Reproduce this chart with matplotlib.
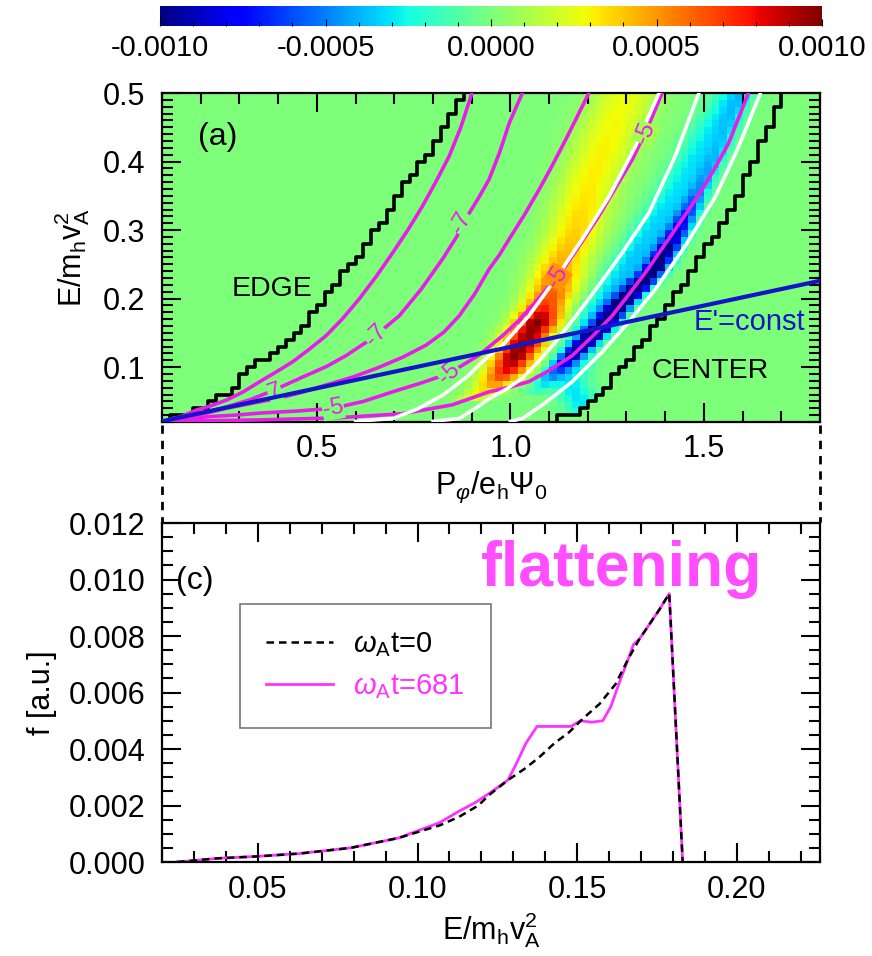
import numpy as np
import matplotlib
matplotlib.use('Agg')
import matplotlib.pyplot as plt
import matplotlib.ticker as ticker
from matplotlib.lines import Line2D

plt.rcParams['font.family'] = ['Liberation Sans', 'DejaVu Sans']
plt.rcParams['mathtext.fontset'] = 'custom'
plt.rcParams['mathtext.rm'] = 'Liberation Sans'
plt.rcParams['mathtext.it'] = 'Liberation Sans:italic'
plt.rcParams['mathtext.bf'] = 'Liberation Sans:bold'

# ---------------- panel (a): curves, (P, E) ----------------
edgeP = [0.13, 0.189, 0.267, 0.344, 0.421, 0.473, 0.516, 0.559, 0.610, 0.653, 0.696, 0.739, 0.782, 0.825, 0.877, 0.89]
edgeE = [0.025, 0.0375, 0.063, 0.103, 0.137, 0.166, 0.195, 0.229, 0.262, 0.301, 0.335, 0.374, 0.408, 0.441, 0.495, 0.51]
centerP = [1.10, 1.160, 1.229, 1.289, 1.358, 1.426, 1.495, 1.564, 1.615, 1.667, 1.701, 1.71]
centerE = [0.021, 0.030, 0.059, 0.098, 0.146, 0.204, 0.262, 0.325, 0.383, 0.446, 0.4995, 0.51]

magA_P = [0.15, 0.189, 0.228, 0.267, 0.31, 0.353, 0.395, 0.438, 0.48, 0.524, 0.567, 0.610, 0.653, 0.696,
          0.735, 0.773, 0.808, 0.842, 0.872, 0.898, 0.905]
magA_E = [0.028, 0.0375, 0.044, 0.052, 0.064, 0.079, 0.093, 0.108, 0.126, 0.146, 0.171, 0.200, 0.232, 0.267,
          0.300, 0.335, 0.371, 0.408, 0.450, 0.495, 0.51]
magB_P = [0.12, 0.181, 0.225, 0.267, 0.33, 0.387, 0.430, 0.473, 0.525, 0.576, 0.645, 0.713, 0.770, 0.825,
          0.862, 0.894, 0.920, 0.945, 0.972, 0.997, 1.031]
magB_E = [0.024, 0.032, 0.036, 0.042, 0.053, 0.066, 0.077, 0.088, 0.101, 0.117, 0.143, 0.175, 0.214, 0.258,
          0.291, 0.325, 0.349, 0.374, 0.413, 0.456, 0.5]
magC_P = [0.12, 0.20, 0.267, 0.33, 0.396, 0.46, 0.524, 0.59, 0.653, 0.72, 0.782, 0.828, 0.868, 0.908, 0.945,
          0.972, 0.997, 1.036, 1.074, 1.108, 1.143, 1.203]
magC_E = [0.023, 0.031, 0.040, 0.047, 0.054, 0.063, 0.074, 0.085, 0.098, 0.114, 0.132, 0.151, 0.175, 0.207,
          0.243, 0.264, 0.287, 0.322, 0.359, 0.394, 0.432, 0.5]
magD_P = [0.12, 0.224, 0.29, 0.353, 0.45, 0.542, 0.62, 0.696, 0.77, 0.842, 0.92, 0.980, 1.02, 1.057, 1.10,
          1.143, 1.186, 1.229, 1.272, 1.315, 1.355, 1.392]
magD_E = [0.022, 0.028, 0.030, 0.033, 0.036, 0.040, 0.050, 0.064, 0.077, 0.091, 0.118, 0.146, 0.167, 0.190,
          0.218, 0.248, 0.284, 0.321, 0.362, 0.403, 0.450, 0.5]
magE_P = [0.12, 0.35, 0.55, 0.72, 0.85, 0.945, 1.00, 1.048, 1.10, 1.160, 1.212, 1.263, 1.306, 1.349, 1.388,
          1.426, 1.461, 1.495, 1.530, 1.564, 1.615]
magE_E = [0.021, 0.023, 0.026, 0.032, 0.045, 0.064, 0.071, 0.079, 0.095, 0.117, 0.145, 0.175, 0.206, 0.238,
          0.270, 0.301, 0.330, 0.359, 0.392, 0.427, 0.5]

white1_P = [0.60, 0.696, 0.76, 0.825, 0.888, 0.945, 0.980, 1.048, 1.117, 1.186, 1.255, 1.323, 1.384]
white1_E = [0.021, 0.025, 0.039, 0.059, 0.086, 0.117, 0.132, 0.175, 0.229, 0.287, 0.349, 0.422, 0.5]
white2_P = [0.80, 0.868, 0.91, 0.945, 0.99, 1.031, 1.074, 1.117, 1.160, 1.203, 1.246, 1.289, 1.358, 1.426, 1.487]
white2_E = [0.021, 0.025, 0.040, 0.054, 0.068, 0.084, 0.109, 0.137, 0.168, 0.200, 0.233, 0.267, 0.325, 0.408, 0.5]
white3_P = [1.00, 1.031, 1.083, 1.120, 1.160, 1.237, 1.306, 1.375, 1.452, 1.530, 1.590, 1.646]
white3_E = [0.021, 0.025, 0.045, 0.061, 0.079, 0.122, 0.166, 0.214, 0.277, 0.349, 0.422, 0.5]

eprime_P = [0.1, 1.8]
eprime_E = [0.021, 0.226]

# contour labels: (text, P, E, angle)
clabels = [('-7', 0.872, 0.311, 60), ('-7', 0.653, 0.146, 45), ('7', 0.391, 0.064, 20),
           ('-5', 0.842, 0.091, 40), ('-5', 0.542, 0.040, 10), ('-5', 1.121, 0.231, 58),
           ('-5', 1.349, 0.441, 68)]

# delta f bands: centre P, amplitude, half width, versus E
posE = [0.05, 0.07, 0.093, 0.117, 0.14, 0.166, 0.19, 0.214, 0.25, 0.30, 0.36, 0.43, 0.50]
posP = [0.89, 0.95, 0.99, 1.014, 1.04, 1.07, 1.09, 1.11, 1.13, 1.17, 1.20, 1.25, 1.30]
posA = [0.0002, 0.0004, 0.0008, 0.001, 0.00095, 0.001, 0.0007, 0.0006, 0.00045, 0.00037, 0.00032, 0.0003, 0.00027]
posW = [0.04, 0.05, 0.055, 0.055, 0.06, 0.06, 0.06, 0.065, 0.07, 0.075, 0.08, 0.085, 0.085]
navyE = [0.06, 0.09, 0.12, 0.16, 0.20, 0.24, 0.30, 0.36, 0.43, 0.50]
navyP = [1.06, 1.11, 1.165, 1.24, 1.30, 1.37, 1.435, 1.49, 1.55, 1.60]
navyA = [-0.0001, -0.0004, -0.0008, -0.0011, -0.0012, -0.0012, -0.0008, -0.0004, -0.00025, -0.0002]
navyW = [0.03, 0.03, 0.03, 0.032, 0.032, 0.032, 0.032, 0.03, 0.03, 0.03]
cyanE = [0.03, 0.08, 0.13, 0.20, 0.27, 0.36, 0.43, 0.50]
cyanP = [1.20, 1.15, 1.17, 1.25, 1.33, 1.43, 1.50, 1.57]
cyanA = [-0.0003, -0.0003, -0.0003, -0.00035, -0.00035, -0.0003, -0.00028, -0.00025]
cyanW = [0.05, 0.05, 0.05, 0.05, 0.05, 0.05, 0.05, 0.05]

cbar_ticks = [-0.001, -0.0005, 0.0, 0.0005, 0.001]

# ---------------- panel (c): distribution function ----------------
E_t0 = [0.0247, 0.0373, 0.0499, 0.063, 0.079, 0.094, 0.107, 0.113, 0.119, 0.1227, 0.1283, 0.1335, 0.138,
        0.1428, 0.1475, 0.152, 0.157, 0.162, 0.166, 0.1695, 0.1725, 0.1755, 0.1788, 0.183]
f_t0 = [0.0, 0.00013, 0.0002, 0.0003, 0.0005, 0.00085, 0.0013, 0.0016, 0.002, 0.0024, 0.0029, 0.0033, 0.0037,
        0.0042, 0.0046, 0.0051, 0.0056, 0.0063, 0.0072, 0.0079, 0.0084, 0.0089, 0.0095, 0.0]
E_t681 = [0.0247, 0.0373, 0.0499, 0.063, 0.079, 0.094, 0.107, 0.113, 0.118, 0.1227, 0.1283, 0.131, 0.1339,
          0.1374, 0.143, 0.148, 0.151, 0.1545, 0.158, 0.1605, 0.163, 0.166, 0.1676, 0.1695, 0.1725, 0.1755,
          0.1788, 0.183]
f_t681 = [0.0, 0.00013, 0.0002, 0.0003, 0.0005, 0.00085, 0.0014, 0.0018, 0.0021, 0.00245, 0.0029, 0.0035,
          0.0042, 0.0048, 0.0048, 0.0048, 0.0050, 0.00495, 0.0050, 0.0055, 0.0063, 0.0072, 0.0077, 0.0079,
          0.0084, 0.0089, 0.0095, 0.0]


def band(Pc, Ec, table_E, table_P, table_A, table_W):
    pc = np.interp(Ec, table_E, table_P)
    a = np.interp(Ec, table_E, table_A, left=0, right=table_A[-1])
    w = np.interp(Ec, table_E, table_W)
    return a * np.exp(-((Pc - pc) / w) ** 2)


def stairs(ax, Pb, Eb, Eedges, dP):
    # boundary drawn on the cell grid of the colour map
    Emid = 0.5 * (Eedges[:-1] + Eedges[1:])
    p = np.round(np.interp(Emid, Eb, Pb) / dP) * dP
    xs = np.repeat(p, 2)
    ys = np.column_stack([Eedges[:-1], Eedges[1:]]).ravel()
    ax.plot(xs, ys, color='k', lw=2.6, zorder=3)


fig = plt.figure(figsize=(8.72, 9.56), dpi=100)
ax1 = fig.add_axes([0.1858, 0.5586, 0.7546, 0.3441])
ax2 = fig.add_axes([0.1858, 0.0983, 0.7546, 0.3546])
cax = fig.add_axes([0.1835, 0.9728, 0.7592, 0.0209])

dP, dE = 0.02, 0.01
Pedges = np.arange(0.1, 1.8 + dP / 2, dP)
Eedges = np.arange(0.02, 0.5 + dE / 2, dE)
Pc, Ec = np.meshgrid(0.5 * (Pedges[:-1] + Pedges[1:]), 0.5 * (Eedges[:-1] + Eedges[1:]))
field = (band(Pc, Ec, posE, posP, posA, posW) + band(Pc, Ec, navyE, navyP, navyA, navyW)
         + band(Pc, Ec, cyanE, cyanP, cyanA, cyanW))
inside = (Pc > np.interp(Ec, edgeE, edgeP)) & (Pc < np.interp(Ec, centerE, centerP))
field = np.where(inside, field, 0.0)

mesh = ax1.pcolormesh(Pedges, Eedges, field, cmap='jet', vmin=-0.001, vmax=0.001, shading='flat')

stairs(ax1, edgeP, edgeE, Eedges, dP)
stairs(ax1, centerP, centerE, Eedges, dP)
mag = '#e81ee8'
for xs, ys in [(magA_P, magA_E), (magB_P, magB_E), (magC_P, magC_E), (magD_P, magD_E), (magE_P, magE_E)]:
    ax1.plot(xs, ys, color=mag, lw=2.6, zorder=3, solid_joinstyle='round')
for xs, ys in [(white1_P, white1_E), (white2_P, white2_E), (white3_P, white3_E)]:
    ax1.plot(xs, ys, color='white', lw=2.6, zorder=3, solid_joinstyle='round')
ax1.plot(eprime_P, eprime_E, color='#1414c8', lw=3, zorder=4)
for s, x, y, a in clabels:
    i = min(int((x - 0.1) / dP), len(Pedges) - 2)
    j = min(int((y - 0.02) / dE), len(Eedges) - 2)
    under = mesh.cmap(mesh.norm(field[j, i]))
    ax1.text(x, y, s, color=mag, fontsize=17, rotation=a, ha='center', va='center', zorder=3.5,
             rotation_mode='anchor', bbox=dict(facecolor=under, edgecolor='none', pad=0.3))

ax1.text(0.244, 0.436, '(a)', fontsize=23, ha='center', va='center')
ax1.text(0.383, 0.214, 'EDGE', fontsize=20.5, ha='center', va='center')
ax1.text(1.517, 0.095, 'CENTER', fontsize=20.5, ha='center', va='center')
ax1.text(1.617, 0.166, "E'=const", fontsize=21, ha='center', va='center', color='#1414c8', zorder=5)

ax1.set_xlim(0.1, 1.8)
ax1.set_ylim(0.02, 0.5)
ax1.xaxis.set_major_locator(ticker.MultipleLocator(0.5))
ax1.xaxis.set_minor_locator(ticker.MultipleLocator(0.1))
ax1.xaxis.set_major_formatter(ticker.FormatStrFormatter('%.1f'))
ax1.yaxis.set_major_locator(ticker.MultipleLocator(0.1))
ax1.yaxis.set_minor_locator(ticker.MultipleLocator(0.01))
ax1.yaxis.set_major_formatter(ticker.FormatStrFormatter('%.1f'))
ax1.set_xlabel(r'P$_\varphi$/e$_\mathrm{h}$$\Psi_\mathrm{0}$', fontsize=22, labelpad=4)
ax1.set_ylabel(r'E/m$_\mathrm{h}$v$_\mathrm{A}^\mathrm{2}$', fontsize=22, labelpad=8)

# ---- panel (c)
ax2.plot(E_t681, f_t681, color='#ff33ff', lw=2, label=r'$\omega_\mathrm{A}$t=681', zorder=2)
ax2.plot(E_t0, f_t0, color='k', lw=1.8, ls=(0, (3, 2)), label=r'$\omega_\mathrm{A}$t=0', zorder=3)
handles, labels = ax2.get_legend_handles_labels()
leg = ax2.legend(handles[::-1], labels[::-1], loc='upper left', bbox_to_anchor=(0.118, 0.76),
                 fontsize=21, frameon=True, fancybox=False, framealpha=1, edgecolor='#777777',
                 handlelength=2.3, borderpad=0.9, labelspacing=0.45, handletextpad=0.7, borderaxespad=0)
leg.get_frame().set_linewidth(1.2)
leg.get_texts()[1].set_color('#ff33ff')

ax2.text(0.05, 0.83, '(c)', transform=ax2.transAxes, fontsize=23, ha='center', va='center')
ax2.text(0.484, 0.815, 'flattening', transform=ax2.transAxes, fontsize=45, fontweight='bold',
         color='#ff4dff', ha='left', va='baseline')

ax2.set_xlim(0.02, 0.226)
ax2.set_ylim(0, 0.012)
ax2.xaxis.set_major_locator(ticker.MultipleLocator(0.05))
ax2.xaxis.set_minor_locator(ticker.MultipleLocator(0.01))
ax2.xaxis.set_major_formatter(ticker.FormatStrFormatter('%.2f'))
ax2.yaxis.set_major_locator(ticker.MultipleLocator(0.002))
ax2.yaxis.set_minor_locator(ticker.MultipleLocator(0.0005))
ax2.yaxis.set_major_formatter(ticker.FormatStrFormatter('%.3f'))
ax2.set_xlabel(r'E/m$_\mathrm{h}$v$_\mathrm{A}^\mathrm{2}$', fontsize=22, labelpad=4)
ax2.set_ylabel('f [a.u.]', fontsize=22, labelpad=8)

for ax in (ax1, ax2):
    for sp in ax.spines.values():
        sp.set_linewidth(1.6)
    ax.tick_params(which='both', direction='in', top=True, right=True, width=1.5, labelsize=22)
    ax.tick_params(which='major', length=14, pad=9)
    ax.tick_params(which='minor', length=8)
    ax.tick_params(axis='y', which='major', pad=12)

# ---- colour bar
cb = fig.colorbar(mesh, cax=cax, orientation='horizontal', ticks=cbar_ticks,
                  format=ticker.FuncFormatter(lambda v, p: '%.4f' % v))
cb.outline.set_visible(False)
cax.xaxis.set_minor_locator(ticker.MultipleLocator(0.0001))
cax.tick_params(which='both', direction='in', width=0.8, labelsize=21, pad=6)
cax.tick_params(which='major', length=5)
cax.tick_params(which='minor', length=3)

# dashed connectors between the panels
for xf in (162 / 872, 820 / 872):
    fig.add_artist(Line2D([xf, xf], [1 - 425 / 956, 1 - 522 / 956], transform=fig.transFigure,
                          color='k', lw=2, ls=(0, (3, 2.5))))

fig.savefig('out.png', dpi=100)
